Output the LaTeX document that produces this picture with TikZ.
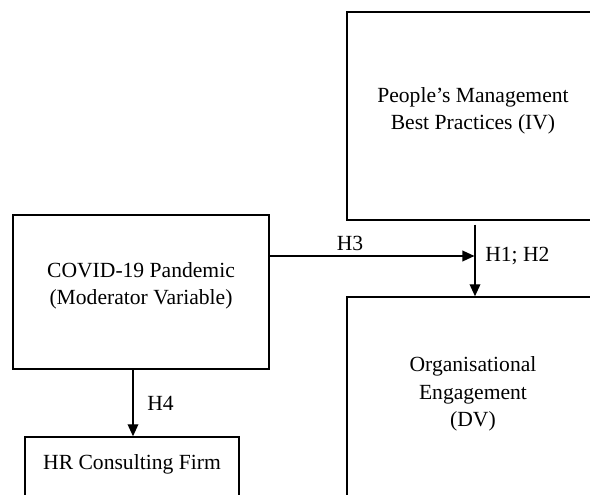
\documentclass[tikz,border=0pt]{standalone}
\usepackage{fontspec}
\setmainfont{Liberation Serif}
\usetikzlibrary{arrows.meta,fit}
\begin{document}
\begin{tikzpicture}[x=0.75pt,y=-0.75pt,
  box/.style={draw,line width=1.1pt,inner sep=0pt},
  txt/.style={align=center,font=\fontsize{16.2}{20.4}\selectfont,inner sep=0pt},
  lbl/.style={font=\fontsize{16.2}{20.4}\selectfont,inner sep=0pt},
  arr/.style={line width=1.1pt,-{Triangle[length=9pt,width=8pt]}}]
\useasboundingbox (0,0) rectangle (590,495);
\clip (0,0) rectangle (590,495);
\node[box,fit={(347,12) (600,220)}] (iv) {};
\node[box,fit={(347,297) (600,530)}] (dv) {};
\node[box,fit={(13,215) (269,369)}] (cov) {};
\node[box,fit={(25,437) (239,530)}] (hr) {};
\node[txt] (ivt) at (473,111) {People’s Management\\Best Practices (IV)};
\node[txt] (dvt) at (473,394) {Organisational\\Engagement\\(DV)};
\node[txt] (covt) at (141,286) {COVID-19 Pandemic\\(Moderator Variable)};
\node[txt] (hrt) at (132,464) {HR Consulting Firm};
\coordinate (j) at (475,256);
\coordinate (k) at (133,400);
\draw[arr,shorten <=3pt] (iv.south -| j) -- (dv.north -| j);
\draw[arr,shorten >=0.4pt] (cov.east |- j) -- (j);
\draw[arr] (cov.south -| k) -- (hr.north -| k);
\node[lbl] (h3) at (350,243) {H3};
\node[lbl,anchor=west] (h12) at (485,256) {H1; H2};
\node[lbl,anchor=west] (h4) at (147,403) {H4};
\end{tikzpicture}
\end{document}
